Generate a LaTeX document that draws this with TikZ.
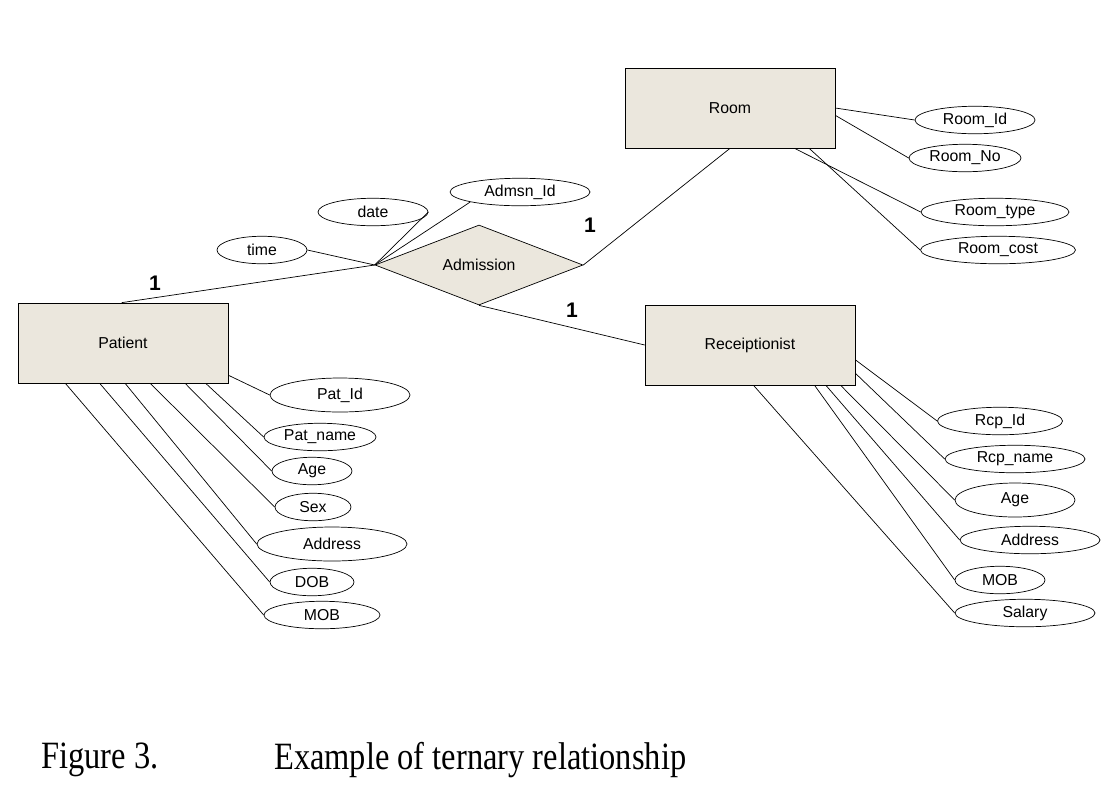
\documentclass[tikz,border=0pt]{standalone}
\usepackage{fontspec}
\setmainfont{Liberation Sans}
\newfontfamily\capfont[FakeStretch=0.84]{Liberation Serif}
\usetikzlibrary{positioning,shapes.geometric}
\definecolor{entfill}{RGB}{235,231,221}
\begin{document}
\begin{tikzpicture}[x=0.02cm,y=-0.02cm,
    ent/.style={draw,fill=entfill,minimum width=4.2cm,minimum height=1.6cm,inner sep=0pt,font=\small},
    rel/.style={diamond,draw,fill=entfill,minimum width=4.16cm,minimum height=1.6cm,inner sep=0pt,aspect=2.6,font=\small},
    att/.style={ellipse,draw,minimum height=0.55cm,inner sep=0pt,font=\small},
    one/.style={font=\bfseries\large}]
  \useasboundingbox (0,0) rectangle (1111,802);
  % entities and relationship
  \node[ent] (room) at (730,108) {Room};
  \node[ent] (pat) at (123,343) {Patient};
  \node[ent] (rcp) at (750,345) {Receiptionist};
  \node[rel] (adm) at (479,265) {Admission};

  % attributes
  \node[att,minimum width=2.8cm] (admid) at (520,192) {Admsn\_Id};
  \node[att,minimum width=2.2cm] (date) at (373,212) {date};
  \node[att,minimum width=1.8cm] (time) at (262,250) {time};

  \node[att,minimum width=2.4cm] (rid) at (975,120) {Room\_Id};
  \node[att,minimum width=2.24cm] (rno) at (965,158) {Room\_No};
  \node[att,minimum width=2.96cm] (rtype) at (995,212) {Room\_type};
  \node[att,minimum width=3.1cm] (rcost) at (998,250) {Room\_cost};

  \node[att,minimum width=2.8cm,minimum height=0.68cm] (pid) at (340,395) {Pat\_Id};
  \node[att,minimum width=2.24cm] (pname) at (320,437) {Pat\_name};
  \node[att,minimum width=1.6cm] (page) at (312,471) {Age};
  \node[att,minimum width=1.52cm] (psex) at (313,507) {Sex};
  \node[att,minimum width=3cm,minimum height=0.68cm] (padr) at (332,544) {Address};
  \node[att,minimum width=1.68cm] (pdob) at (312,582) {DOB};
  \node[att,minimum width=2.32cm] (pmob) at (322,615) {MOB};

  \node[att,minimum width=2.5cm] (cid) at (1000,421) {Rcp\_Id};
  \node[att,minimum width=2.8cm] (cname) at (1015,459) {Rcp\_name};
  \node[att,minimum width=2.4cm,minimum height=0.68cm] (cage) at (1015,500) {Age};
  \node[att,minimum width=2.8cm] (cadr) at (1030,540) {Address};
  \node[att,minimum width=1.8cm] (cmob) at (1000,580) {MOB};
  \node[att,minimum width=2.8cm] (csal) at (1025,613) {Salary};

  % relationship lines
  \draw (adm.west) -- (pat.92);
  \draw (adm.east) -- (room.south);
  \draw (adm.south) -- (rcp.west);
  \node[one] (n1) at (155,283) {1};
  \node[one] (n2) at (590,225) {1};
  \node[one] (n3) at (572,310) {1};
  \draw (adm.west) -- (admid.south west);
  \draw (adm.west) -- (date.east);
  \draw (adm.west) -- (time.east);

  % attribute lines
  \draw (room.0) -- (rid.west);
  \draw (room.-4) -- (rno.west);
  \draw (room.-32) -- (rtype.west);
  \draw (room.-27) -- (rcost.west);

  \draw (pat.-17) -- (pid.west);
  \draw (pat.-26) -- (pname.west);
  \draw (pat.-33) -- (page.west);
  \draw (pat.-56) -- (psex.west);
  \draw (pat.-87) -- (padr.west);
  \draw (pat.-120) -- (pdob.west);
  \draw (pat.-145) -- (pmob.west);

  \draw (rcp.-8) -- (cid.west);
  \draw (rcp.-15) -- (cname.west);
  \draw (rcp.-24) -- (cage.west);
  \draw (rcp.-28) -- (cadr.west);
  \draw (rcp.-32) -- (cmob.west);
  \draw (rcp.-85) -- (csal.west);

  % caption
  \node[anchor=west,font=\capfont\fontsize{22}{26}\selectfont] (fig) at (35,760) {Figure 3.};
  \node[anchor=west,font=\capfont\fontsize{22}{26}\selectfont] (cap) at (268,760) {Example of ternary relationship};
\end{tikzpicture}
\end{document}
